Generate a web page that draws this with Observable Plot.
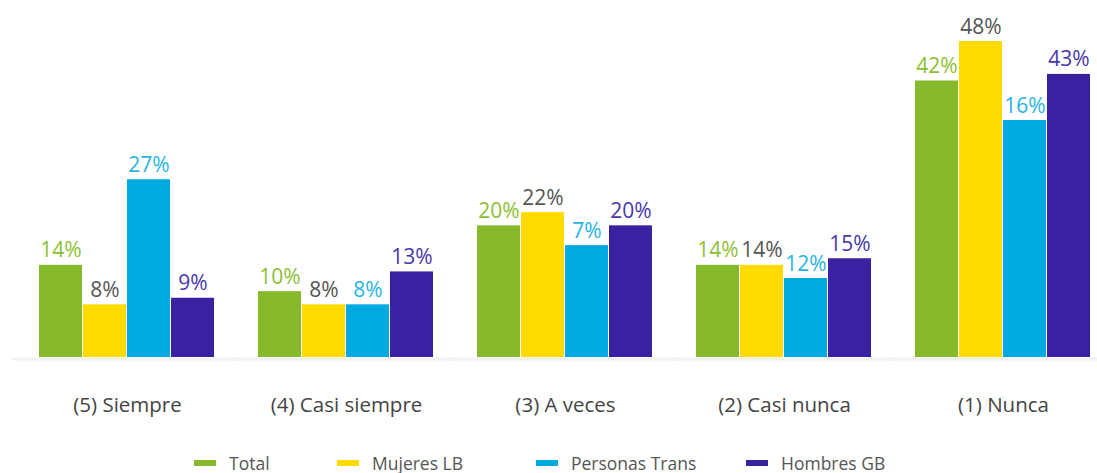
<!DOCTYPE html>
<html>
<head>
<meta charset="utf-8">
<script src="https://cdn.jsdelivr.net/npm/d3@7"></script>
<script src="https://cdn.jsdelivr.net/npm/@observablehq/plot@0.6"></script>
<style>
  body { margin: 0; background: #fff; font-family: "Open Sans", sans-serif; }
  #chart svg { display: block; }
  .legend { display: flex; align-items: center; height: 26px; padding-left: 194px; font-size: 17.5px; color: #555; }
  .legend .item { display: flex; align-items: center; }
  .legend .sw { width: 22px; height: 6px; margin-right: 13px; }
</style>
</head>
<body>
<div id="chart"></div>
<script>
const categories = ["(5) Siempre", "(4) Casi siempre", "(3) A veces", "(2) Casi nunca", "(1) Nunca"];
const seriesNames = ["Total", "Mujeres LB", "Personas Trans", "Hombres GB"];
const total   = [14, 10, 20, 14, 42];
const mujeres = [8, 8, 22, 14, 48];
const trans   = [27, 8, 17, 12, 36];   // bar heights as drawn
const hombres = [9, 13, 20, 15, 43];
// labels as printed in the reference (Personas Trans labels differ from bar heights)
const totalLabels   = ["14%", "10%", "20%", "14%", "42%"];
const mujeresLabels = ["8%", "8%", "22%", "14%", "48%"];
const transLabels   = ["27%", "8%", "7%", "12%", "16%"];
const hombresLabels = ["9%", "13%", "20%", "15%", "43%"];

const barColors = ["#86b92b", "#ffdb00", "#00aae0", "#3a21a2"];
const labelColors = ["#8cbf34", "#555555", "#29b4e6", "#4a37ad"];
const legendWidths = [143, 199, 210, 200];

const valuesBySeries = [total, mujeres, trans, hombres];
const labelsBySeries = [totalLabels, mujeresLabels, transLabels, hombresLabels];
const data = [];
categories.forEach((c, i) => {
  seriesNames.forEach((s, j) => {
    data.push({category: c, series: s, value: valuesBySeries[j][i], label: labelsBySeries[j][i]});
  });
});

const chart = Plot.plot({
  width: 1097,
  height: 450,
  marginTop: 41,
  marginBottom: 93,
  marginLeft: 39,
  marginRight: 5,
  style: {fontFamily: "Open Sans", fontSize: "20.5px", color: "#444", background: "#fff"},
  facet: {data, x: "category"},
  fx: {domain: categories, axis: "bottom", label: null, tickSize: 0, tickPadding: 40, paddingInner: 0.196, paddingOuter: 0},
  x: {domain: seriesNames, axis: null, paddingInner: 0.02, paddingOuter: 0},
  y: {domain: [0, 48], axis: null},
  color: {domain: seriesNames, range: barColors},
  marks: [
    Plot.ruleY([0], {stroke: "#f2f2f2", strokeWidth: 3, dy: 1.5, insetLeft: -28, insetRight: -28}),
    Plot.barY(data, {x: "series", y: "value", fill: "series"}),
    Plot.text(data, {
      x: "series", y: "value", text: "label",
      fill: d => labelColors[seriesNames.indexOf(d.series)],
      lineAnchor: "bottom", dy: -8, fontSize: 21
    })
  ]
});
document.getElementById("chart").appendChild(chart);

const legend = document.createElement("div");
legend.className = "legend";
seriesNames.forEach((s, j) => {
  const item = document.createElement("div");
  item.className = "item";
  item.style.width = legendWidths[j] + "px";
  const sw = document.createElement("span");
  sw.className = "sw";
  sw.style.background = barColors[j];
  const t = document.createElement("span");
  t.textContent = s;
  item.appendChild(sw);
  item.appendChild(t);
  legend.appendChild(item);
});
document.getElementById("chart").appendChild(legend);
</script>
</body>
</html>
